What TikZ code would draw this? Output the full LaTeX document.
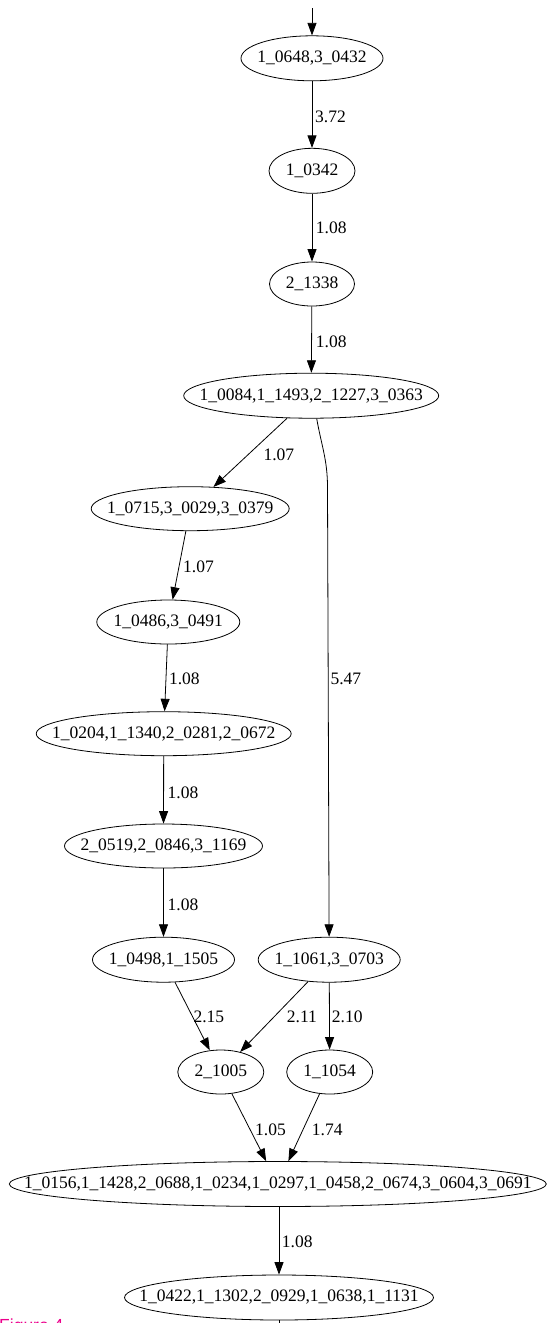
\documentclass[tikz,border=0pt]{standalone}
\usepackage{fontspec}
\setmainfont{Liberation Serif}
\setsansfont{Liberation Sans}
\usetikzlibrary{shapes.geometric,arrows.meta}

\begin{document}
\begin{tikzpicture}[x=1pt,y=-1pt,font=\fontsize{17.5}{20}\selectfont,
    nd/.style 2 args={ellipse,draw,line width=0.8pt,inner sep=0pt,minimum width=#1pt,minimum height=#2pt},
    edge/.style={line width=0.8pt,-{Triangle[length=12.5pt,width=9pt]}},
    lbl/.style={anchor=west,inner sep=0pt}]
  \useasboundingbox (0,0) rectangle (547,1323);
  % nodes, at their pixel positions
  \node[nd={142}{45},label={center:1\_0648,3\_0432}] (n1) at (312,58.3) {};
  \node[nd={86}{45},label={center:1\_0342}] (n2) at (312,170.8) {};
  \node[nd={85}{44},label={center:2\_1338}] (n3) at (312,284) {};
  \node[nd={255}{45},label={center:1\_0084,1\_1493,2\_1227,3\_0363}] (n4) at (311.2,395.7) {};
  \node[nd={198}{44},label={center:1\_0715,3\_0029,3\_0379}] (n5) at (190.2,508.7) {};
  \node[nd={143}{44},label={center:1\_0486,3\_0491}] (n6) at (168.3,622) {};
  \node[nd={255}{44},label={center:1\_0204,1\_1340,2\_0281,2\_0672}] (n7) at (163.7,733.7) {};
  \node[nd={198}{44},label={center:2\_0519,2\_0846,3\_1169}] (n8) at (163.5,846) {};
  \node[nd={142}{45},label={center:1\_0498,1\_1505}] (n9) at (163.5,959.7) {};
  \node[nd={142}{45},label={center:1\_1061,3\_0703}] (n10) at (329.2,959.7) {};
  \node[nd={86}{44},label={center:2\_1005}] (n11) at (220.8,1072) {};
  \node[nd={86}{44},label={center:1\_1054}] (n12) at (329.7,1072) {};
  \node[nd={537}{45},label={center:1\_0156,1\_1428,2\_0688,1\_0234,1\_0297,1\_0458,2\_0674,3\_0604,3\_0691}] (n13) at (277.8,1184) {};
  \node[nd={309}{45},label={center:1\_0422,1\_1302,2\_0929,1\_0638,1\_1131}] (n14) at (279,1297.5) {};
  \coordinate (top) at (312,8);
  \coordinate (bend) at (327.5,487);
  \coordinate (bot) at (279,1335);
  % edges
  \draw[edge] (top) -- (n1);
  \foreach \a/\b in {n1/n2,n2/n3,n3/n4,n4/n5,n5/n6,n6/n7,n7/n8,n8/n9,n9/n11,n10/n11,n10/n12,n11/n13,n12/n13}
    \draw[edge] (\a) -- (\b);
  \draw[edge] ([xshift=5.5pt]n4.south) to[out=-80,in=90] (bend) -- (n10);
  \draw[edge] (n13.south -| n14) -- (n14.north);
  \draw[line width=0.8pt] (n14.south) -- (bot);
  % edge weights
  \foreach \x/\y/\w [count=\i] in {315/117.3/3.72,315.7/228/1.08,315.7/341.7/1.08,263.4/455/1.07,
      183/566.7/1.07,168.9/679/1.08,330.4/679.3/5.47,167.5/792.3/1.08,167.5/905/1.08,
      193.3/1016.7/2.15,286.7/1016.7/2.11,331.7/1016.7/2.10,255/1130/1.05,311.7/1130/1.74,281.7/1241.7/1.08}
    \node[lbl] (w\i) at (\x,\y) {\w};
  \node[anchor=base west,inner sep=0pt,text=magenta,font=\sffamily\fontsize{17.5}{20}\selectfont] (fig) at (-1,1331) {Figure 4};
\end{tikzpicture}
\end{document}
